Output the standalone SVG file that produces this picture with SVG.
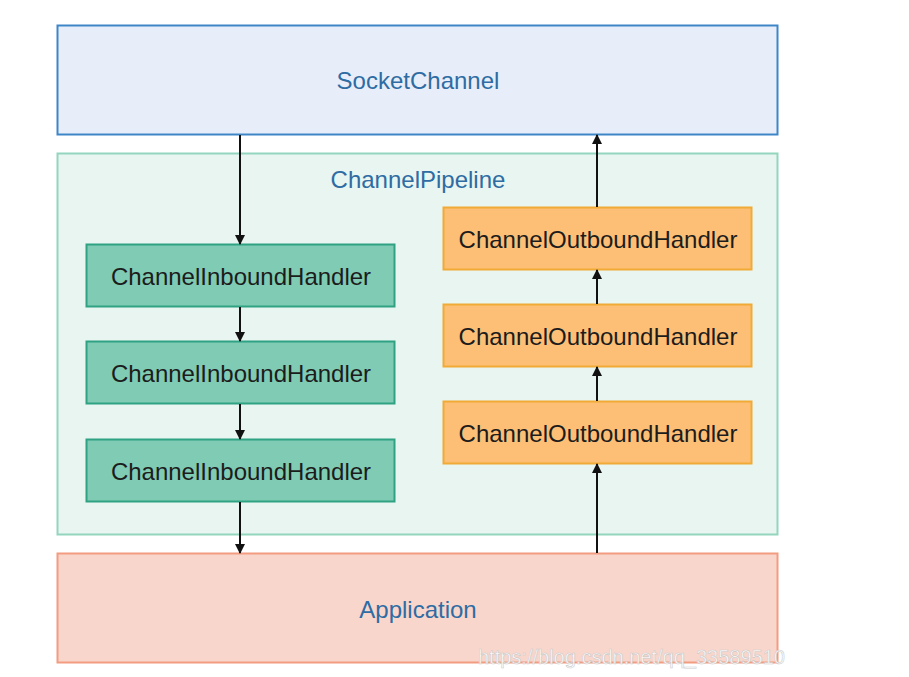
<svg xmlns="http://www.w3.org/2000/svg" width="909" height="677" viewBox="0 0 909 677">
<style>
.lbl{font-family:"Liberation Sans",Arial,sans-serif;font-size:24px;text-anchor:middle;dominant-baseline:central}
.blue{fill:#2e6ca3}
.dark{fill:#1c1c1c}
.in{fill:#7fcbb4;stroke:#2fa283;stroke-width:2}
.out{fill:#fdbf76;stroke:#f0aa35;stroke-width:2}
.c{stroke:#111;stroke-width:2;fill:none;marker-end:url(#ah)}
</style>
<defs>
<marker id="ah" viewBox="0 0 10 10" refX="9" refY="5" markerWidth="5" markerHeight="5" orient="auto" markerUnits="strokeWidth">
<path d="M0,0 L10,5 L0,10 z" fill="#111"/>
</marker>
</defs>
<rect width="909" height="677" fill="#ffffff"/>
<g id="socketchannel">
<rect x="57.5" y="25.5" width="720" height="109" fill="#e8eef9" stroke="#3f86c7" stroke-width="2"/>
<text class="lbl blue" x="418" y="80">SocketChannel</text>
</g>
<g id="pipeline">
<rect x="57.5" y="153.5" width="720" height="381" fill="#e8f5f0" stroke="#93d5bd" stroke-width="2"/>
<text class="lbl blue" x="418" y="179">ChannelPipeline</text>
</g>
<g id="application">
<rect x="57.5" y="553.5" width="720" height="109" fill="#f8d6cc" stroke="#f29c80" stroke-width="2"/>
<text class="lbl blue" x="418" y="609">Application</text>
</g>
<g id="inbound1">
<rect class="in" x="86.5" y="244.5" width="308" height="62"/>
<text class="lbl dark" x="241" y="276">ChannelInboundHandler</text>
</g>
<g id="inbound2">
<rect class="in" x="86.5" y="341.5" width="308" height="62"/>
<text class="lbl dark" x="241" y="373">ChannelInboundHandler</text>
</g>
<g id="inbound3">
<rect class="in" x="86.5" y="439.5" width="308" height="62"/>
<text class="lbl dark" x="241" y="471">ChannelInboundHandler</text>
</g>
<g id="outbound1">
<rect class="out" x="443.5" y="207.5" width="308" height="62"/>
<text class="lbl dark" x="598" y="239">ChannelOutboundHandler</text>
</g>
<g id="outbound2">
<rect class="out" x="443.5" y="304.5" width="308" height="62"/>
<text class="lbl dark" x="598" y="336">ChannelOutboundHandler</text>
</g>
<g id="outbound3">
<rect class="out" x="443.5" y="401.5" width="308" height="62"/>
<text class="lbl dark" x="598" y="433">ChannelOutboundHandler</text>
</g>
<g id="connectors">
<line class="c" x1="240" y1="135" x2="240" y2="244"/>
<line class="c" x1="240" y1="307" x2="240" y2="341"/>
<line class="c" x1="240" y1="404" x2="240" y2="439"/>
<line class="c" x1="240" y1="502" x2="240" y2="553"/>
<line class="c" x1="597" y1="553" x2="597" y2="464"/>
<line class="c" x1="597" y1="401" x2="597" y2="367"/>
<line class="c" x1="597" y1="304" x2="597" y2="270"/>
<line class="c" x1="597" y1="207" x2="597" y2="135"/>
</g>
<text x="478" y="664" font-family="Liberation Sans,Arial,sans-serif" font-size="20" fill="#ffffff" stroke="#c8c8c8" stroke-width="0.6" opacity="0.9">https://blog.csdn.net/qq_33589510</text>
</svg>
